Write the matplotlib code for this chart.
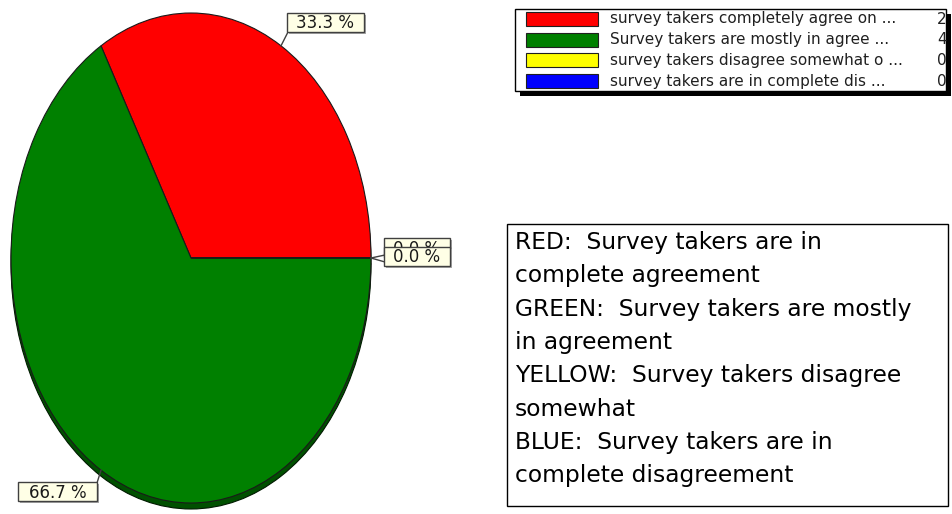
import matplotlib
matplotlib.use("Agg")
import matplotlib.pyplot as plt
import numpy as np
from matplotlib.patches import Rectangle

# survey answers
categories = ["survey takers completely agree on ...",
              "Survey takers are mostly in agree ...",
              "survey takers disagree somewhat o ...",
              "survey takers are in complete dis ..."]
counts = [2, 4, 0, 0]
colors = ["#ff0000", "#008000", "#ffff00", "#0000ff"]
side_colors = ["#a00000", "#005000", "#a0a000", "#0000a0"]

note_lines = ["RED:  Survey takers are in",
              "complete agreement",
              "GREEN:  Survey takers are mostly",
              "in agreement",
              "YELLOW:  Survey takers disagree",
              "somewhat",
              "BLUE:  Survey takers are in",
              "complete disagreement"]

W, H = 952, 514
fig = plt.figure(figsize=(W / 100, H / 100), dpi=100)

# pie is squashed into an ellipse by giving it a tall axes
cx, cy, rx, ry, depth = 191, 258, 180, 245, 6
pax = fig.add_axes([(cx - rx) / W, (H - cy - ry) / H, 2 * rx / W, 2 * ry / H])
side, _ = pax.pie(counts, colors=side_colors, startangle=0, center=(0, -depth / ry),
                  wedgeprops=dict(edgecolor="#001a00", linewidth=0.8))
top, _ = pax.pie(counts, colors=colors, startangle=0,
                 wedgeprops=dict(edgecolor="#1a1a1a", linewidth=0.8))
for w in side + top:
    w.set_clip_on(False)
pax.set_xlim(-1, 1)
pax.set_ylim(-1, 1)
pax.set_aspect("auto")
pax.axis("off")

# overlay in pixel coordinates for labels, legend and note
ax = fig.add_axes([0, 0, 1, 1])
ax.set_xlim(0, W)
ax.set_ylim(H, 0)
ax.axis("off")

total = sum(counts)
starts = np.cumsum([0] + counts[:-1]) / total * 360
mids = starts + np.array(counts) / total * 180

# (left, top, width, attach x, attach y) for each percentage box
label_boxes = [(287, 13, 77, 288, 32),
               (18, 482, 79, 97, 483),
               (384, 238, 66, 385, 255),
               (384, 247, 66, 385, 262)]
box_h = 19
for i, (c, ang, (bx, by, bw, axx, ayy)) in enumerate(zip(counts, mids, label_boxes)):
    ex = cx + rx * np.cos(np.radians(ang))
    ey = cy - ry * np.sin(np.radians(ang))
    z = 3 + i * 3
    ax.plot([ex, axx], [ey, ayy], color="#404040", lw=1, zorder=z)
    ax.add_patch(Rectangle((bx + 2, by + 2), bw, box_h, fc="#a8a8a8", ec="none", zorder=z))
    ax.add_patch(Rectangle((bx, by), bw, box_h, fc="#ffffe6", ec="#404040", lw=1, zorder=z + 1))
    ax.text(bx + bw / 2, by + box_h / 2 + 1, f"{100 * c / total:.1f} %", ha="center", va="center",
            fontsize=12, color="#1a1a1a", zorder=z + 2)

# legend
lx, ly, lw_, lh = 515, 9, 431, 82
ax.add_patch(Rectangle((lx + 5, ly + 5), lw_, lh, fc="black", ec="none", zorder=20))
ax.add_patch(Rectangle((lx, ly), lw_, lh, fc="white", ec="black", lw=1, zorder=21))
for i, (name, c, col) in enumerate(zip(categories, counts, colors)):
    yc = 19 + i * 20.7
    ax.add_patch(Rectangle((526, yc - 7), 72, 14, fc=col, ec="#202020", lw=0.8, zorder=22))
    ax.text(610, yc, name, fontsize=11, va="center", color="#202020", zorder=22)
    ax.text(937, yc, str(c), fontsize=11, va="center", color="#202020", zorder=22)

# colour key note
ax.add_patch(Rectangle((507, 224), 441, 282, fc="white", ec="black", lw=1, zorder=20))
for i, line in enumerate(note_lines):
    ax.text(515, 249 + 33.3 * i, line, fontsize=16.8, va="baseline", color="black", zorder=21)

fig.savefig("out.png", dpi=100)
